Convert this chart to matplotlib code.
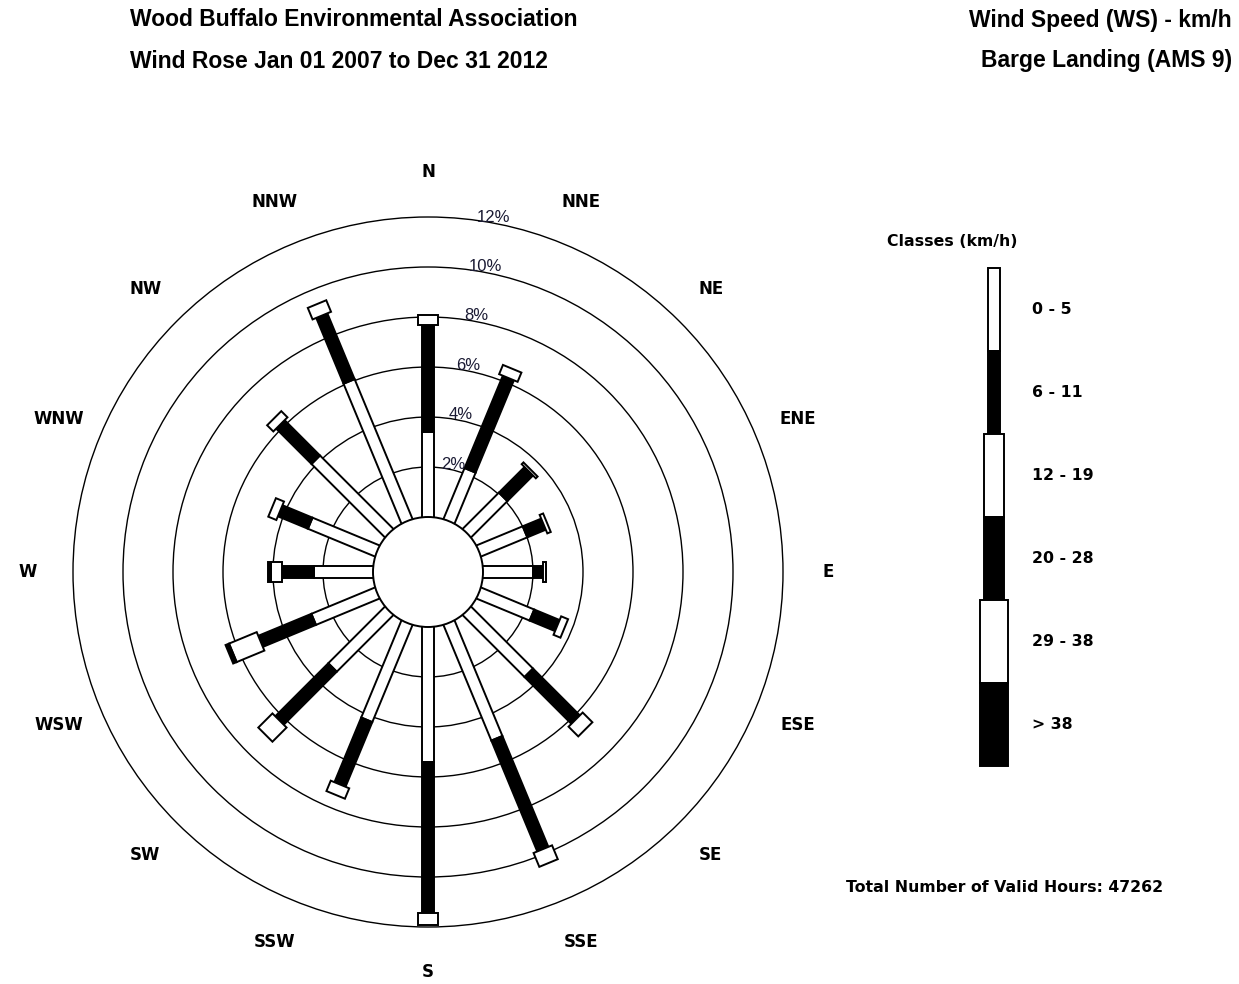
import numpy as np
import matplotlib
matplotlib.use("Agg")
import matplotlib.pyplot as plt
from matplotlib.patches import Polygon, Circle, Rectangle

plt.rcParams['font.family'] = ['Liberation Sans', 'DejaVu Sans']
LABEL_FONT = ['DejaVu Sans']

# Wind direction sectors (compass order, clockwise from north)
directions = ["N", "NNE", "NE", "ENE", "E", "ESE", "SE", "SSE",
              "S", "SSW", "SW", "WSW", "W", "WNW", "NW", "NNW"]
speed_classes = ["0 - 5", "6 - 11", "12 - 19", "20 - 28", "29 - 38", "> 38"]

# Frequency (% of valid hours) per speed class and direction
ws_0_5   = [3.40, 2.20, 2.05, 2.00, 2.00, 2.30, 3.50, 5.00,
            5.40, 4.20, 3.20, 2.75, 2.35, 2.90, 4.15, 6.05]
ws_6_11  = [4.30, 4.00, 1.45, 0.80, 0.40, 1.10, 2.65, 4.80,
            6.05, 2.80, 3.00, 2.30, 1.30, 1.30, 2.00, 2.85]
ws_12_19 = [0.40, 0.40, 0.10, 0.15, 0.10, 0.30, 0.55, 0.60,
            0.45, 0.45, 0.80, 1.20, 0.45, 0.35, 0.35, 0.50]
ws_20_28 = [0.00, 0.00, 0.00, 0.00, 0.00, 0.00, 0.00, 0.00,
            0.00, 0.00, 0.00, 0.15, 0.10, 0.00, 0.00, 0.00]
ws_29_38 = [0.0] * 16
ws_gt_38 = [0.0] * 16

ring_levels = [2, 4, 6, 8, 10, 12]
total_hours = 47262

# Drawing style per class: fill colour and bar width (in % units)
class_fill = ["white", "black", "white", "black", "white", "black"]
class_width = [0.48, 0.48, 0.80, 0.80, 1.12, 1.12]

calm_radius = 2.2          # radius of the central circle, in % units
label_radius = 16.0

W_PX, H_PX = 1239, 984
fig = plt.figure(figsize=(W_PX / 100, H_PX / 100), dpi=100)

# Rose axes: 25 px per percent, centred on the rose centre
half = 16.5
cx, cy = 428, 572
ax = fig.add_axes([(cx - half * 25) / W_PX, (H_PX - cy - half * 25) / H_PX,
                   2 * half * 25 / W_PX, 2 * half * 25 / H_PX])
ax.set_xlim(-half, half)
ax.set_ylim(-half, half)
ax.set_aspect('equal')
ax.axis('off')

# Concentric percentage rings with their labels
for lev in ring_levels:
    r = calm_radius + lev
    ax.add_patch(Circle((0, 0), r, fill=False,
                        edgecolor='black', lw=1.0, zorder=1))
    ang = np.deg2rad(10.0 + 4.0 / (lev / 2))
    ax.text(r * np.sin(ang), r * np.cos(ang) + 0.05, f"{lev}%",
            ha='center', va='baseline', fontsize=12, color='#1a1a33',
            zorder=6)

# Stacked bars, one rectangle per speed class
series = [ws_0_5, ws_6_11, ws_12_19, ws_20_28, ws_29_38, ws_gt_38]
for i, d in enumerate(directions):
    theta = np.deg2rad(22.5 * i)
    u = np.array([np.sin(theta), np.cos(theta)])
    p = np.array([np.cos(theta), -np.sin(theta)])
    base = 0.0
    for k, vals in enumerate(series):
        v = vals[i]
        if v <= 0:
            continue
        r0 = calm_radius + base - (0.2 if k == 0 else 0.0)
        r1 = calm_radius + base + v
        hw = class_width[k] / 2
        corners = [u * r0 - p * hw, u * r1 - p * hw,
                   u * r1 + p * hw, u * r0 + p * hw]
        ax.add_patch(Polygon(corners, closed=True, facecolor=class_fill[k],
                             edgecolor='black', lw=1.4, zorder=3 + 0.01 * k))
        base += v

# Central circle
ax.add_patch(Circle((0, 0), calm_radius, facecolor='white',
                    edgecolor='black', lw=1.4, zorder=5))

# Compass labels
for i, d in enumerate(directions):
    theta = np.deg2rad(22.5 * i)
    ax.text(label_radius * np.sin(theta), label_radius * np.cos(theta), d,
            ha='center', va='center', fontsize=12, fontweight='bold',
            family=LABEL_FONT, clip_on=False)

# Overlay axes in pixel units for titles and legend
ov = fig.add_axes([0, 0, 1, 1])
ov.set_xlim(0, W_PX)
ov.set_ylim(H_PX, 0)
ov.axis('off')

ov.text(130, 20, "Wood Buffalo Environmental Association", fontsize=16.5,
        fontweight='bold', ha='left', va='center')
ov.text(130, 61, "Wind Rose Jan 01 2007 to Dec 31 2012", fontsize=16.5,
        fontweight='bold', ha='left', va='center')
ov.text(1232, 20, "Wind Speed (WS) - km/h", fontsize=16.5,
        fontweight='bold', ha='right', va='center')
ov.text(1232, 61, "Barge Landing (AMS 9)", fontsize=16.5,
        fontweight='bold', ha='right', va='center')

# Legend: class bars stacked vertically
ov.text(952, 241, "Classes (km/h)", fontsize=11.3, fontweight='bold',
        family=LABEL_FONT, ha='center', va='center')
leg_x, leg_top, seg_h, px_per_unit = 994, 268, 83, 25
for k, name in enumerate(speed_classes):
    w = class_width[k] * px_per_unit
    y0 = leg_top + k * seg_h
    ov.add_patch(Rectangle((leg_x - w / 2, y0), w, seg_h,
                           facecolor=class_fill[k], edgecolor='black',
                           lw=1.4))
    ov.text(1032, y0 + seg_h / 2, name, fontsize=11.3, fontweight='bold',
            family=LABEL_FONT, ha='left', va='center')

ov.text(846, 887, f"Total Number of Valid Hours: {total_hours}",
        fontsize=11.3, fontweight='bold', family=LABEL_FONT,
        ha='left', va='center')

fig.savefig("out.png", dpi=100)
